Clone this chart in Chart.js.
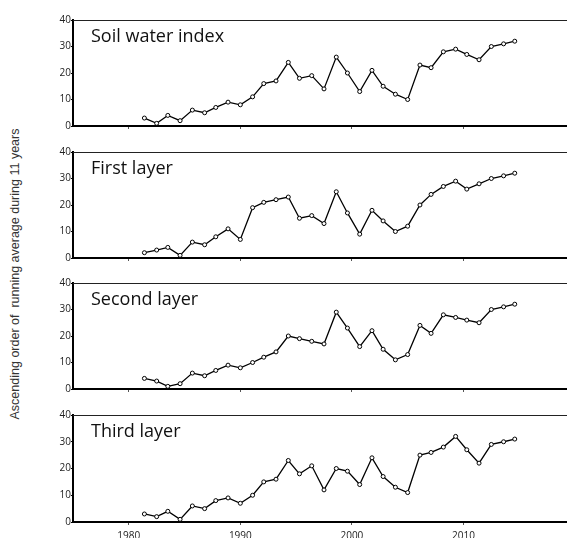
<!DOCTYPE html>
<html>
<head>
<meta charset="utf-8">
<script src="https://cdn.jsdelivr.net/npm/chart.js@4.4.1/dist/chart.umd.min.js"></script>
<style>
  html, body { margin: 0; padding: 0; background: #fff; overflow: hidden; }
  body { width: 567px; height: 538px; position: relative; }
  .panel { position: absolute; left: 0; width: 580px; }
  #ytitle {
    position: absolute; left: 15px; top: 274px;
    transform: translate(-50%, -50%) rotate(-90deg);
    font: 12.5px "Liberation Sans", Arial, sans-serif; color: #333;
    white-space: pre;
  }
</style>
</head>
<body>
<div id="ytitle">Ascending order of  running average during 11 years</div>
<div class="panel" id="p0"><canvas id="c0"></canvas></div>
<div class="panel" id="p1"><canvas id="c1"></canvas></div>
<div class="panel" id="p2"><canvas id="c2"></canvas></div>
<div class="panel" id="p3"><canvas id="c3"></canvas></div>
<script>
// x position of each point (years)
const years = [1981.4, 1982.5, 1983.5, 1984.6, 1985.7, 1986.8, 1987.8, 1988.9,
  1990.0, 1991.1, 1992.1, 1993.2, 1994.3, 1995.3, 1996.4, 1997.5,
  1998.6, 1999.6, 2000.7, 2001.8, 2002.8, 2003.9, 2005.0, 2006.1,
  2007.1, 2008.2, 2009.3, 2010.3, 2011.4, 2012.5, 2013.6, 2014.6];

const soilWater = [3, 1, 4, 2, 6, 5, 7, 9, 8, 11, 16, 17, 24, 18, 19, 14,
  26, 20, 13, 21, 15, 12, 10, 23, 22, 28, 29, 27, 25, 30, 31, 32];
const firstLayer = [2, 3, 4, 1, 6, 5, 8, 11, 7, 19, 21, 22, 23, 15, 16, 13,
  25, 17, 9, 18, 14, 10, 12, 20, 24, 27, 29, 26, 28, 30, 31, 32];
const secondLayer = [4, 3, 1, 2, 6, 5, 7, 9, 8, 10, 12, 14, 20, 19, 18, 17,
  29, 23, 16, 22, 15, 11, 13, 24, 21, 28, 27, 26, 25, 30, 31, 32];
const thirdLayer = [3, 2, 4, 1, 6, 5, 8, 9, 7, 10, 15, 16, 23, 18, 21, 12,
  20, 19, 14, 24, 17, 13, 11, 25, 26, 28, 32, 27, 22, 29, 30, 31];

const panelNames = ["Soil water index", "First layer", "Second layer", "Third layer"];
const panelSeries = [soilWater, firstLayer, secondLayer, thirdLayer];
const xTicks = [1980, 1990, 2000, 2010];
const yTicks = [0, 10, 20, 30, 40];

const plotTops = [20, 152, 283, 415];
const plotH = 107;
const padTop = 12;

const framePlugin = {
  id: "frame",
  afterDraw(chart, args, opts) {
    const { ctx, chartArea } = chart;
    ctx.save();
    ctx.strokeStyle = "#222";
    ctx.lineWidth = 1.2;
    ctx.beginPath();
    ctx.moveTo(chartArea.left, chartArea.top + 0.5);
    ctx.lineTo(chartArea.right, chartArea.top + 0.5);
    ctx.stroke();
    ctx.fillStyle = "#111";
    ctx.font = '18px "Open Sans"';
    ctx.textBaseline = "alphabetic";
    ctx.fillText(opts.label, chartArea.left + 18, chartArea.top + 22);
    ctx.restore();
  }
};

panelNames.forEach((name, i) => {
  const last = i === panelNames.length - 1;
  const xH = last ? 24 : 5;
  const h = padTop + plotH + xH;
  const div = document.getElementById("p" + i);
  div.style.top = (plotTops[i] - padTop) + "px";
  div.style.height = h + "px";
  const cv = document.getElementById("c" + i);
  cv.width = 580;
  cv.height = h;

  new Chart(cv.getContext("2d"), {
    type: "line",
    data: {
      datasets: [{
        label: name,
        data: years.map((x, k) => ({ x: x, y: panelSeries[i][k] })),
        borderColor: "#000",
        borderWidth: 1.3,
        pointRadius: 2,
        pointBorderWidth: 1,
        pointBackgroundColor: "#fff",
        pointBorderColor: "#000",
        tension: 0,
        fill: false
      }]
    },
    options: {
      responsive: false,
      devicePixelRatio: 1,
      animation: false,
      layout: { padding: { top: padTop, left: 0, right: 0, bottom: 0 } },
      plugins: {
        legend: { display: false },
        tooltip: { enabled: false },
        frame: { label: name }
      },
      scales: {
        x: {
          type: "linear",
          min: 1975,
          max: 2020,
          afterBuildTicks: s => { s.ticks = xTicks.map(v => ({ value: v })); },
          afterFit: s => { s.height = xH; },
          border: { display: true, color: "#000", width: 2 },
          grid: { drawOnChartArea: false, drawTicks: true, tickLength: 3, color: "#555" },
          ticks: {
            display: last,
            padding: 5,
            color: "#222",
            font: { family: "Open Sans", size: 10 },
            maxRotation: 0,
            callback: v => String(v)
          }
        },
        y: {
          min: 0,
          max: 40,
          afterBuildTicks: s => { s.ticks = yTicks.map(v => ({ value: v })); },
          afterFit: s => { s.width = 73; },
          border: { display: true, color: "#000", width: 2 },
          grid: { drawOnChartArea: false, drawTicks: true, tickLength: 2, color: "#000" },
          ticks: {
            padding: 0,
            color: "#222",
            font: { family: "Open Sans", size: 10 }
          }
        }
      }
    },
    plugins: [framePlugin]
  });
});
</script>
</body>
</html>
